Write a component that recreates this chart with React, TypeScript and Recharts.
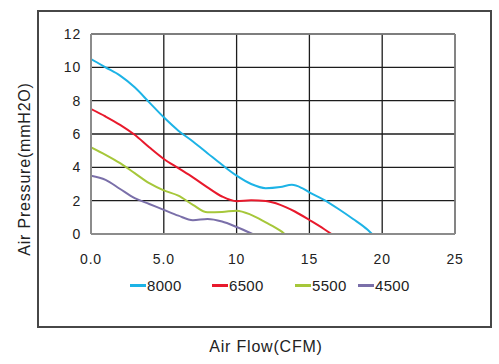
import React from "react";
import { LineChart, Line, XAxis, YAxis, CartesianGrid, ReferenceLine } from "recharts";

const FONT = "'Liberation Sans', Arial, Helvetica, sans-serif";
const GRID = "#1c1c1c";
const AXIS = "#8c8c8c";
const TEXT = "#222";

// air flow (CFM) / air pressure (mmH2O)
const RPM_8000 = [
  { x: 0, y: 10.5 }, { x: 1, y: 10.0 }, { x: 2, y: 9.5 }, { x: 3, y: 8.8 },
  { x: 4, y: 7.9 }, { x: 5, y: 7.0 }, { x: 6, y: 6.2 }, { x: 7, y: 5.55 },
  { x: 8, y: 4.85 }, { x: 9, y: 4.15 }, { x: 10, y: 3.5 }, { x: 11, y: 3.0 },
  { x: 12, y: 2.75 }, { x: 13, y: 2.82 }, { x: 13.8, y: 2.95 }, { x: 14.5, y: 2.75 },
  { x: 15, y: 2.5 }, { x: 16, y: 2.05 }, { x: 17, y: 1.5 }, { x: 18, y: 0.9 },
  { x: 19, y: 0.25 }, { x: 19.3, y: 0 },
];
const RPM_6500 = [
  { x: 0, y: 7.5 }, { x: 1, y: 7.05 }, { x: 2, y: 6.55 }, { x: 3, y: 5.95 },
  { x: 4, y: 5.2 }, { x: 5, y: 4.5 }, { x: 6, y: 3.95 }, { x: 7, y: 3.4 },
  { x: 8, y: 2.8 }, { x: 9, y: 2.25 }, { x: 10, y: 1.97 }, { x: 11, y: 2.02 },
  { x: 12, y: 1.98 }, { x: 13, y: 1.75 }, { x: 14, y: 1.35 }, { x: 15, y: 0.84 },
  { x: 16, y: 0.3 }, { x: 16.5, y: 0 },
];
const RPM_5500 = [
  { x: 0, y: 5.2 }, { x: 1, y: 4.75 }, { x: 2, y: 4.25 }, { x: 3, y: 3.65 },
  { x: 4, y: 3.05 }, { x: 5, y: 2.62 }, { x: 6, y: 2.3 }, { x: 7, y: 1.75 },
  { x: 8, y: 1.3 }, { x: 9, y: 1.32 }, { x: 10, y: 1.4 }, { x: 11, y: 1.15 },
  { x: 12, y: 0.7 }, { x: 13, y: 0.2 }, { x: 13.3, y: 0 },
];
const RPM_4500 = [
  { x: 0, y: 3.5 }, { x: 1, y: 3.25 }, { x: 2, y: 2.7 }, { x: 3, y: 2.15 },
  { x: 4, y: 1.8 }, { x: 5, y: 1.45 }, { x: 6, y: 1.1 }, { x: 7, y: 0.83 },
  { x: 8, y: 0.9 }, { x: 9, y: 0.75 }, { x: 10, y: 0.42 }, { x: 11.1, y: 0 },
];

const X_TICKS = [0, 5, 10, 15, 20, 25];
const Y_TICKS = [0, 2, 4, 6, 8, 10, 12];

const SERIES = [
  { name: "8000", color: "#1db3e6", data: RPM_8000 },
  { name: "6500", color: "#e8192c", data: RPM_6500 },
  { name: "5500", color: "#a6c73a", data: RPM_5500 },
  { name: "4500", color: "#7a6fa9", data: RPM_4500 },
];
const LEGEND_LEFT = [130, 212, 295, 358];

const fmtX = (v: number) => (v < 10 ? v.toFixed(1) : String(v));

export default function App() {
  return (
    <div style={{ position: "relative", width: 499, height: 364, background: "#fff", fontFamily: FONT }}>
      <style>{"body{margin:0}"}</style>
      <div
        style={{
          position: "absolute",
          left: 37,
          top: 10,
          width: 455,
          height: 318,
          border: "2px solid #474747",
          boxSizing: "border-box",
        }}
      />
      <div style={{ position: "absolute", left: 0, top: 0 }}>
        <LineChart width={499} height={364} data={RPM_8000} margin={{ top: 34, right: 44, bottom: 100, left: 41 }}>
          <CartesianGrid stroke={GRID} strokeWidth={1.3} />
          <XAxis
            type="number"
            dataKey="x"
            domain={[0, 25]}
            ticks={X_TICKS}
            tickFormatter={fmtX}
            allowDataOverflow
            stroke={AXIS}
            strokeWidth={2}
            tickLine={false}
            tickSize={6}
            tickMargin={14}
            height={30}
            tick={{ fontSize: 14, fill: TEXT, fontFamily: FONT, letterSpacing: 0.8 }}
          />
          <YAxis
            type="number"
            domain={[0, 12]}
            ticks={Y_TICKS}
            allowDataOverflow
            stroke={AXIS}
            strokeWidth={2}
            tickLine={false}
            tickSize={6}
            tickMargin={4}
            width={50}
            tick={{ fontSize: 14, fill: TEXT, fontFamily: FONT, letterSpacing: 0.8 }}
          />
          <ReferenceLine y={12} stroke={AXIS} strokeWidth={1.5} />
          <ReferenceLine x={25} stroke={AXIS} strokeWidth={1.5} />
          {SERIES.map((s) => (
            <Line
              key={s.name}
              data={s.data}
              dataKey="y"
              name={s.name}
              type="monotone"
              stroke={s.color}
              strokeWidth={2}
              dot={false}
              activeDot={false}
              isAnimationActive={false}
            />
          ))}
        </LineChart>
      </div>
      {SERIES.map((s, i) => (
        <div
          key={s.name}
          style={{
            position: "absolute",
            left: LEGEND_LEFT[i],
            top: 276,
            height: 18,
            display: "flex",
            alignItems: "center",
            fontSize: 15,
            color: TEXT,
            letterSpacing: 0.3,
          }}
        >
          <span style={{ display: "inline-block", width: 16, height: 3, background: s.color, marginRight: 1 }} />
          {s.name}
        </div>
      ))}
      <div
        style={{
          position: "absolute",
          left: 166,
          width: 200,
          top: 338,
          textAlign: "center",
          fontSize: 16,
          letterSpacing: 0.8,
          color: TEXT,
        }}
      >
        Air Flow(CFM)
      </div>
      <div
        style={{
          position: "absolute",
          left: 25,
          top: 169,
          width: 220,
          marginLeft: -110,
          marginTop: -10,
          height: 20,
          lineHeight: "20px",
          textAlign: "center",
          transform: "rotate(-90deg)",
          fontSize: 16,
          letterSpacing: 0.8,
          color: TEXT,
        }}
      >
        Air Pressure(mmH2O)
      </div>
    </div>
  );
}
